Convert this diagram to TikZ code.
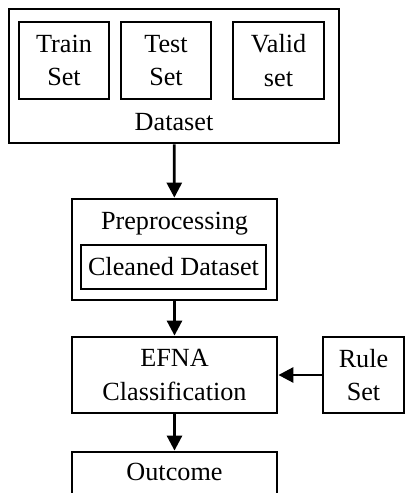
\documentclass[tikz,border=0pt]{standalone}
\usepackage{fontspec}
\setmainfont{Liberation Serif}
\usetikzlibrary{arrows.meta}
\begin{document}
\begin{tikzpicture}[x=0.5pt,y=-0.5pt,line width=1.4pt,
  box/.style={draw,align=center,inner sep=0pt},
  flow/.style={-{Triangle[length=7.5pt,width=7.5pt]}},
  font=\fontsize{13.1}{16.8}\selectfont]
\clip (0,0) rectangle (406,493);
% dataset and its three parts
\node[box,minimum width=165pt,minimum height=67pt] (dataset) at (174,76) {};
\node[anchor=base] (dstext) at (174,130) {Dataset};
\node[box,minimum width=45pt,minimum height=38.5pt] (train) at (64,60.5) {Train\\Set};
\node[box,minimum width=45pt,minimum height=38.5pt] (test) at (166,60.5) {Test\\Set};
\node[box,minimum width=45.5pt,minimum height=38.5pt] (valid) at (278.5,60.5) {Valid\\set};
% preprocessing
\node[box,minimum width=102.5pt,minimum height=50.5pt] (prep) at (174.5,249.5) {};
\node[anchor=base] (preptext) at (174.5,229) {Preprocessing};
\node[box,minimum width=92.5pt,minimum height=22pt] (clean) at (173.5,267) {Cleaned Dataset};
% classification
\node[box,minimum width=102.5pt,minimum height=38pt] (efna) at (174.5,375) {EFNA\\Classification};
\node[box,minimum width=40.5pt,minimum height=38pt] (rule) at (363.5,375) {Rule\\Set};
\node[box,minimum width=102.5pt,minimum height=29pt] (outcome) at (174.5,481) {};
\node[anchor=base] (outtext) at (174.5,480) {Outcome};
\draw[flow] (dataset) -- (prep);
\draw[flow] (prep) -- (efna);
\draw[flow] (rule) -- (efna);
\draw[flow] (efna) -- (outcome);
\end{tikzpicture}
\end{document}
